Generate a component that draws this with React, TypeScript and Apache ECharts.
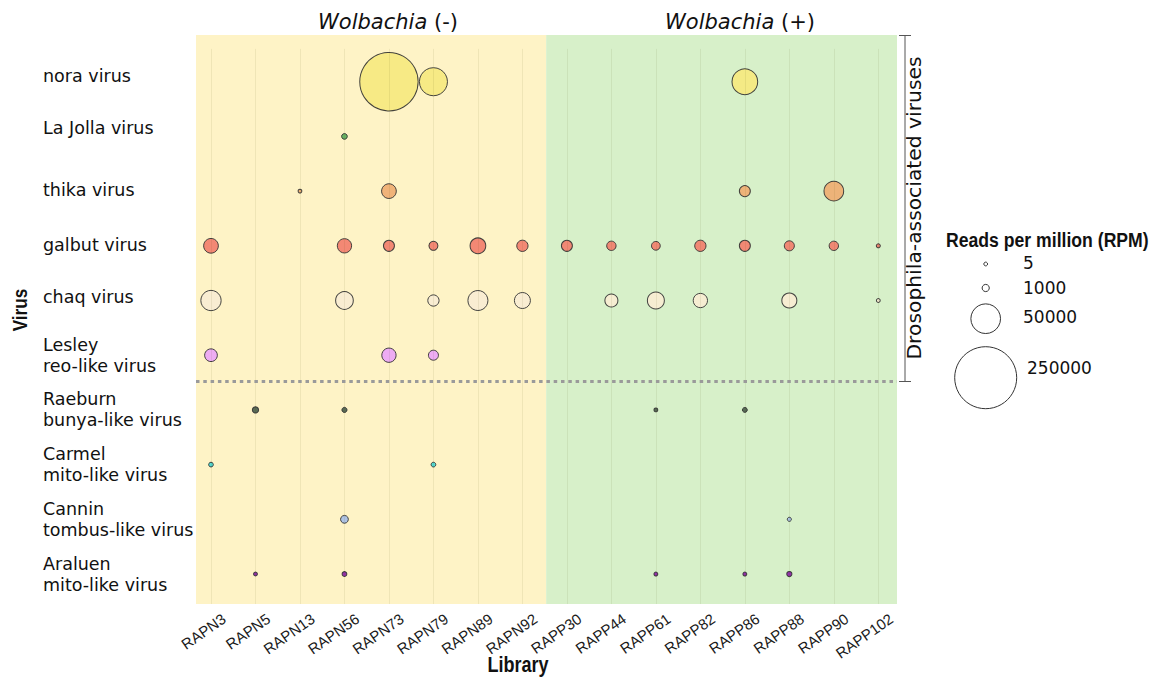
import React, { useEffect, useRef } from 'react';
import * as echarts from 'echarts';

// ---------- data ----------
const libraries = ['RAPN3', 'RAPN5', 'RAPN13', 'RAPN56', 'RAPN73', 'RAPN79', 'RAPN89', 'RAPN92',
  'RAPP30', 'RAPP44', 'RAPP61', 'RAPP82', 'RAPP86', 'RAPP88', 'RAPP90', 'RAPP102'];

const viruses = ['nora virus', 'La Jolla virus', 'thika virus', 'galbut virus', 'chaq virus',
  'Lesley\nreo-like virus', 'Raeburn\nbunya-like virus', 'Carmel\nmito-like virus',
  'Cannin\ntombus-like virus', 'Araluen\nmito-like virus'];

const virusColors = ['#F6E97F', '#5DAE5B', '#EFAE72', '#F27F6C', '#F8EDD2', '#EDA6F6',
  '#4C5F4C', '#45D9D2', '#A7BFE6', '#8D22A8'];

// reads per million (RPM), one entry per library, null = not detected
const nora = [null, null, null, null, 220000, 44000, null, null, null, null, null, null, 36000, null, null, null];
const laJolla = [null, null, null, 350, null, null, null, null, null, null, null, null, null, null, null, null];
const thika = [null, null, 5, null, 9200, null, null, null, null, null, null, null, 4100, null, 19200, null];
const galbut = [9200, null, null, 8500, 4100, 2200, 10900, 4400, 4100, 2500, 2000, 4400, 4100, 3100, 2500, 20];
const chaq = [20600, null, null, 14700, null, 4400, 19900, 11400, null, 6600, 13300, 8500, null, 9700, null, 5];
const lesley = [6200, null, null, null, 8500, 3100, null, null, null, null, null, null, null, null, null, null];
const raeburn = [null, 570, null, 190, null, null, null, null, null, null, 7, null, 140, null, null, null];
const carmel = [105, null, null, null, null, 105, null, null, null, null, null, null, null, null, null, null];
const cannin = [null, null, null, 1350, null, null, null, null, null, null, null, null, null, 26, null, null];
const araluen = [null, 7, null, 120, null, null, null, null, null, null, 12, null, 12, 210, null, null];

const readsByVirus = [nora, laJolla, thika, galbut, chaq, lesley, raeburn, carmel, cannin, araluen];

const legendValues = [5, 1000, 50000, 250000];
const groupNames = ['Wolbachia', 'Wolbachia'];
const groupSigns = ['(-)', '(+)'];

// ---------- layout constants ----------
const X_MIN = -0.337;
const X_MAX = 15.42;
const X_SPLIT = 7.534;
const LABEL_DX = 0.29; // rotated tick labels sit a little right of their ticks
const Y_MIN = -0.854;
const Y_MAX = 9.548;
const Y_GRID_TOP = -0.6;
const Y_SEPARATOR = 5.47;
// small upward nudges (px*2) of some single-line y labels, as in the reference
const labelLift = [12, 16, 2, 2, 8, 0, 0, 0, 0, 0];

const SANS = "'DejaVu Sans', sans-serif";
const ARIAL = "'Liberation Sans', Arial, sans-serif";

const MAX_RPM = 250000;
const symbolDiameter = (v: number) => 3.5 + 58.5 * Math.sqrt(v / MAX_RPM);

export default function App() {
  const ref = useRef<HTMLDivElement>(null);

  useEffect(() => {
    if (!ref.current) return;
    const chart = echarts.init(ref.current, null, { renderer: 'svg' });
    const libIdx = libraries.map((_, i) => i);
    const virIdx = viruses.map((_, i) => i);

    const bubbleSeries = readsByVirus.map((vals, vi) => ({
      type: 'scatter',
      name: viruses[vi],
      z: 3,
      data: vals
        .map((v, li) => (v == null ? null : [li, vi, v]))
        .filter((d) => d !== null),
      symbol: 'circle',
      symbolSize: (d: number[]) => symbolDiameter(d[2]),
      itemStyle: {
        color: virusColors[vi],
        opacity: 0.92,
        borderColor: '#333',
        borderWidth: 1,
      },
      emphasis: { disabled: true },
    }));

    const richLabel: any = {};
    labelLift.forEach((p, i) => {
      richLabel['l' + i] = {
        fontSize: 17.5,
        fontFamily: SANS,
        color: '#111',
        padding: [0, 0, p, 0],
      };
    });

    const legendGraphics: any[] = [];
    const legendCy = [264, 288, 318.7, 377.7];
    const legendLy = [263, 288, 317, 368];
    const legendLx = [1023, 1023, 1023, 1027];
    legendValues.forEach((v, i) => {
      legendGraphics.push({
        type: 'circle',
        shape: { cx: 985.7, cy: legendCy[i], r: symbolDiameter(v) / 2 },
        style: { fill: '#fff', stroke: '#333', lineWidth: 1 },
      });
      legendGraphics.push({
        type: 'text',
        x: legendLx[i],
        y: legendLy[i],
        style: { text: String(v), fill: '#111', font: `17px ${SANS}`, textVerticalAlign: 'middle' },
      });
    });

    const option: any = {
      animation: false,
      backgroundColor: '#ffffff',
      grid: { left: 196, top: 35, width: 701, height: 569, containLabel: false },
      xAxis: [
        {
          type: 'value',
          min: X_MIN,
          max: X_MAX,
          position: 'bottom',
          axisLine: { show: false },
          splitLine: { show: false },
          axisTick: { show: true, customValues: libIdx, length: 5, lineStyle: { color: '#c8c8c8' } },
          axisLabel: { show: false },
        },
        {
          type: 'value',
          min: X_MIN - LABEL_DX,
          max: X_MAX - LABEL_DX,
          position: 'bottom',
          offset: 0,
          axisLine: { show: false },
          splitLine: { show: false },
          axisTick: { show: false },
          axisLabel: {
            customValues: libIdx,
            formatter: (v: number) => libraries[Math.round(v)],
            rotate: 35,
            fontSize: 15,
            fontFamily: ARIAL,
            color: '#1a1a1a',
            margin: 13,
          },
        },
      ],
      yAxis: {
        type: 'value',
        inverse: true,
        min: Y_MIN,
        max: Y_MAX,
        axisLine: { show: false },
        axisTick: { show: false },
        splitLine: { show: false },
        axisLabel: {
          customValues: virIdx,
          formatter: (v: number) => {
            const i = Math.round(v);
            const name = viruses[i];
            return name.indexOf('\n') >= 0 ? name : `{l${i}|${name}}`;
          },
          rich: richLabel,
          align: 'left',
          margin: 153,
          fontSize: 17.5,
          lineHeight: 21,
          fontFamily: SANS,
          color: '#111',
        },
      },
      series: [
        {
          type: 'scatter',
          z: 1,
          data: [],
          silent: true,
          markArea: {
            silent: true,
            data: [
              [{ xAxis: X_MIN, yAxis: Y_MIN, itemStyle: { color: '#FEF3C6' } }, { xAxis: X_SPLIT, yAxis: Y_MAX }],
              [{ xAxis: X_SPLIT, yAxis: Y_MIN, itemStyle: { color: '#D7F0C9' } }, { xAxis: X_MAX, yAxis: Y_MAX }],
            ],
          },
        },
        {
          type: 'scatter',
          z: 2,
          data: [],
          silent: true,
          markLine: {
            silent: true,
            symbol: ['none', 'none'],
            label: { show: false },
            lineStyle: { color: 'rgba(60,60,0,0.08)', width: 1, type: 'solid' },
            data: [
              ...libIdx.map((i) => [{ coord: [i, Y_GRID_TOP] }, { coord: [i, Y_MAX] }]),
              [
                { coord: [X_MIN, Y_SEPARATOR], lineStyle: { color: '#9a9a9a', width: 3, type: [3.5, 3.8] } },
                { coord: [X_MAX, Y_SEPARATOR] },
              ],
            ],
          },
        },
        ...bubbleSeries,
      ],
      graphic: [
        {
          type: 'text',
          x: 388,
          y: 22,
          style: {
            text: `{i|${groupNames[0]}} ${groupSigns[0]}`,
            rich: { i: { fontStyle: 'italic', fontSize: 21, fontFamily: SANS, fill: '#111' } },
            font: `21px ${SANS}`,
            fill: '#111',
            textAlign: 'center',
            textVerticalAlign: 'middle',
          },
        },
        {
          type: 'text',
          x: 740,
          y: 22,
          style: {
            text: `{i|${groupNames[1]}} ${groupSigns[1]}`,
            rich: { i: { fontStyle: 'italic', fontSize: 21, fontFamily: SANS, fill: '#111' } },
            font: `21px ${SANS}`,
            fill: '#111',
            textAlign: 'center',
            textVerticalAlign: 'middle',
          },
        },
        // bracket for Drosophila-associated viruses
        { type: 'line', shape: { x1: 905, y1: 35, x2: 905, y2: 381 }, style: { stroke: '#555', lineWidth: 1 } },
        { type: 'line', shape: { x1: 899, y1: 35.5, x2: 911, y2: 35.5 }, style: { stroke: '#555', lineWidth: 1 } },
        { type: 'line', shape: { x1: 899, y1: 381.5, x2: 911, y2: 381.5 }, style: { stroke: '#555', lineWidth: 1 } },
        {
          type: 'text',
          x: 914,
          y: 208,
          rotation: Math.PI / 2,
          style: {
            text: 'Drosophila-associated viruses',
            font: `20.3px ${SANS}`,
            fill: '#111',
            textAlign: 'center',
            textVerticalAlign: 'middle',
          },
        },
        // axis titles (narrow bold look)
        {
          type: 'text',
          x: 518,
          y: 664,
          scaleX: 0.82,
          style: { text: 'Library', font: `bold 22px ${ARIAL}`, fill: '#111', textAlign: 'center', textVerticalAlign: 'middle' },
        },
        {
          type: 'text',
          x: 20,
          y: 310,
          rotation: Math.PI / 2,
          scaleX: 0.82,
          style: { text: 'Virus', font: `bold 21px ${ARIAL}`, fill: '#111', textAlign: 'center', textVerticalAlign: 'middle' },
        },
        // size legend
        {
          type: 'text',
          x: 946,
          y: 240.5,
          scaleX: 0.86,
          style: {
            text: 'Reads per million (RPM)',
            font: `bold 20.5px ${ARIAL}`,
            fill: '#111',
            textVerticalAlign: 'middle',
          },
        },
        ...legendGraphics,
      ],
    };

    chart.setOption(option);
    return () => chart.dispose();
  }, []);

  return (
    <div
      ref={ref}
      style={{ position: 'fixed', left: 0, top: 0, width: 1153, height: 677, background: '#fff' }}
    />
  );
}
